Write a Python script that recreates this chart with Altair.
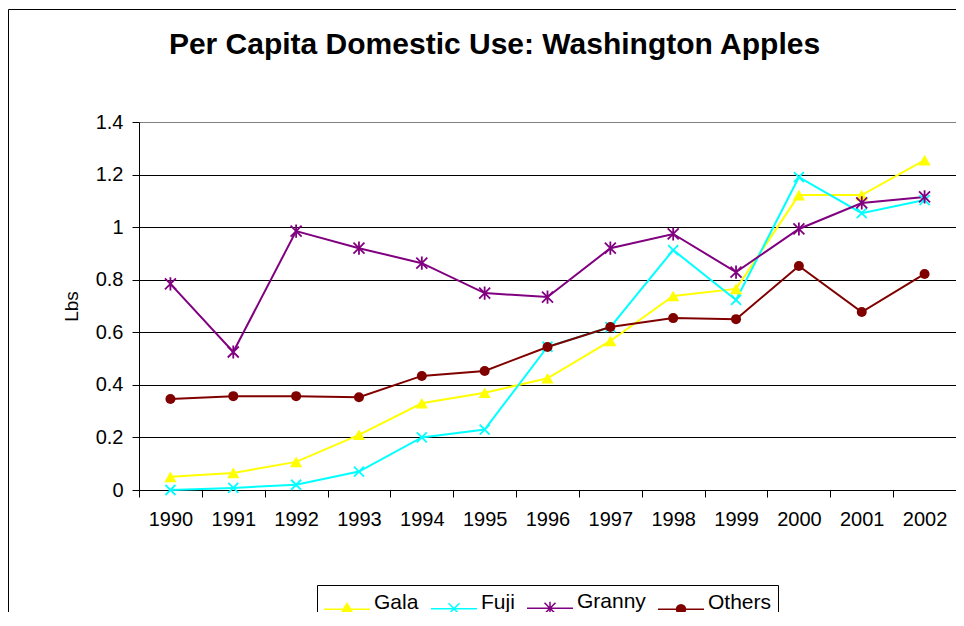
import altair as alt
import pandas as pd

years = ["1990", "1991", "1992", "1993", "1994", "1995", "1996",
         "1997", "1998", "1999", "2000", "2001", "2002"]
series = ["Gala", "Fuji", "Granny", "Others"]
gala = [0.05, 0.065, 0.107, 0.21, 0.33, 0.37, 0.425, 0.567, 0.738, 0.765, 1.122, 1.122, 1.255]
fuji = [0.0, 0.008, 0.02, 0.07, 0.20, 0.23, 0.545, 0.62, 0.913, 0.723, 1.19, 1.053, 1.103]
granny = [0.784, 0.525, 0.985, 0.92, 0.863, 0.749, 0.734, 0.92, 0.974, 0.829, 0.993, 1.092, 1.115]
others = [0.346, 0.357, 0.357, 0.353, 0.434, 0.453, 0.544, 0.62, 0.654, 0.65, 0.852, 0.677, 0.822]
colors = ["#FFFF00", "#00FFFF", "#800080", "#800000"]
y_ticks = [0, 0.2, 0.4, 0.6, 0.8, 1, 1.2, 1.4]

rows = []
for name, vals in zip(series, [gala, fuji, granny, others]):
    for yr, v in zip(years, vals):
        rows.append({"Year": yr, "Series": name, "Lbs": v})
df = pd.DataFrame(rows)

FONT = "Liberation Sans"

X_PATH = "M-1,-1L1,1M-1,1L1,-1"
AST_PATH = "M-1,-1L1,1M-1,1L1,-1M0,-1.2V1.2"
point_shapes = ["triangle-up", X_PATH, AST_PATH, "circle"]
point_filled = [True, False, False, True]
point_sizes = [150, 100, 121, 100]

# legend glyphs: a line segment with the marker on it (unit = 10 px)
CX, CY = 1.3, 0.6


def ring(r):
    return (f"M{CX + r:.3f},{CY:.3f}A{r:.3f},{r:.3f} 0 1,1 {CX - r:.3f},{CY:.3f}"
            f"A{r:.3f},{r:.3f} 0 1,1 {CX + r:.3f},{CY:.3f}Z")


def tri(top, bottom, half):
    return (f"M{CX:.3f},{CY + top:.3f}L{CX - half:.3f},{CY + bottom:.3f}"
            f"L{CX + half:.3f},{CY + bottom:.3f}Z")


LINE = f"M-1,{CY}H3.6"
TRI = tri(-0.58, 0.45, 0.62) + tri(-0.328, 0.32, 0.39) + tri(-0.077, 0.191, 0.16)
XS = (f"M{CX - 0.55:.3f},{CY - 0.55:.3f}L{CX + 0.55:.3f},{CY + 0.55:.3f}"
      f"M{CX - 0.55:.3f},{CY + 0.55:.3f}L{CX + 0.55:.3f},{CY - 0.55:.3f}")
AST = XS + f"M{CX:.3f},{CY - 0.65:.3f}V{CY + 0.65:.3f}"
CIRC = ring(0.45) + ring(0.3) + ring(0.15) + f"M{CX - 0.05:.3f},{CY}H{CX + 0.05:.3f}"
legend_shapes = [LINE + TRI, LINE + XS, LINE + AST, LINE + CIRC]

x_enc = alt.X(
    "Year:O",
    scale=alt.Scale(type="band", domain=years, paddingInner=0, paddingOuter=0),
    bandPosition=0.5,
    axis=alt.Axis(title=None, labelAngle=0, tickBand="extent", tickSize=7,
                  tickColor="black", domainColor="black", labelFontSize=20,
                  labelPadding=12, labelColor="black", labelFont=FONT, grid=False),
)
y_enc = alt.Y(
    "Lbs:Q",
    scale=alt.Scale(domain=[0, 1.4], nice=False),
    axis=alt.Axis(values=y_ticks, format="~g", grid=True,
                  gridColor={"condition": {"test": "datum.value > 1.39", "value": "#808080"},
                             "value": "black"},
                  gridWidth=1, domainColor="black", tickColor="black", tickSize=7,
                  labelFontSize=20, labelPadding=9, labelColor="black", labelFont=FONT,
                  title="Lbs", titleFontSize=19, titleFontWeight="normal",
                  titleColor="black", titleFont=FONT, titleX=-62,
                  titleBaseline="alphabetic"),
)

base = alt.Chart(df)

frame = alt.Chart(alt.Data(values=[{}])).mark_rect(
    fill="transparent", stroke="black", strokeWidth=1
).encode(x=alt.value(-130.5), x2=alt.value(900), y=alt.value(-112.5), y2=alt.value(700))

leg = alt.Legend(orient="none", legendX=178, legendY=463, direction="horizontal",
                 title=None, columns=4, symbolSize=400, symbolStrokeWidth=1.5,
                 symbolOpacity=1, labelFontSize=21, labelFont=FONT, labelColor="black",
                 labelOffset=29, columnPadding=9, padding=6,
                 strokeColor="black", fillColor="white")

line_layers = []
point_layers = []
for name, shp, fil, sz, col in zip(series, point_shapes, point_filled, point_sizes, colors):
    sub = base.transform_filter(alt.datum.Series == name)
    line_layers.append(sub.mark_line(strokeWidth=2, color=col).encode(x=x_enc, y=y_enc))
    if fil:
        mk = sub.mark_point(shape=shp, filled=True, size=sz, color=col, opacity=1)
    else:
        mk = sub.mark_point(shape=shp, filled=False, size=sz, color=col,
                            strokeWidth=1.8, opacity=1)
    point_layers.append(mk.encode(x=x_enc, y=y_enc))

legend_layer = base.mark_point(filled=False, opacity=0).encode(
    x=x_enc, y=y_enc,
    color=alt.Color("Series:N", scale=alt.Scale(domain=series, range=colors), legend=leg),
    shape=alt.Shape("Series:N", scale=alt.Scale(domain=series, range=legend_shapes), legend=leg),
)

chart = alt.layer(frame, *line_layers, *point_layers, legend_layer).properties(
    width=817, height=368,
    title=alt.Title("Per Capita Domestic Use: Washington Apples", fontSize=30,
                    fontWeight="bold", font=FONT, anchor="middle", dx=-53,
                    frame="group", baseline="alphabetic", offset=-75, color="black"),
    autosize=alt.AutoSizeParams(type="none"),
    padding={"left": 131, "top": 114, "right": 0, "bottom": 122},
).configure_view(stroke="#808080", strokeWidth=1, fill="#C0C0C0").configure(
    background="white", font=FONT
)

chart.save("out.html", embed_options={"renderer": "svg", "actions": False})
